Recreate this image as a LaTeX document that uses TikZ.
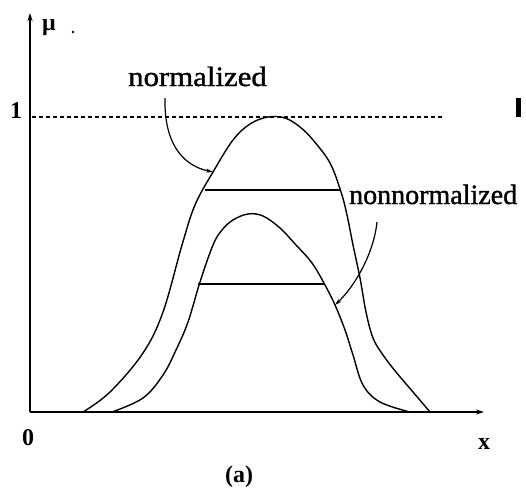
\documentclass[tikz,border=0pt]{standalone}
\usepackage{fontspec}
\setmainfont{Liberation Serif}
\usetikzlibrary{arrows.meta}
\begin{document}
\begin{tikzpicture}[x=1pt,y=-1pt,
  axis/.style={line width=1.8pt,-{Stealth[length=8pt,width=5pt]}},
  curve/.style={line width=1.4pt},
  level/.style={line width=1.6pt},
  pointer/.style={line width=1.2pt,-{Stealth[length=7pt,width=4pt]}},
  lbl/.style={inner sep=0pt,anchor=base west,font=\fontsize{28}{30}\selectfont\addfontfeature{FakeBold=1.2}},
  num/.style={inner sep=0pt,anchor=base west,font=\fontsize{24}{26}\selectfont\bfseries}]
\useasboundingbox (0,0) rectangle (526,490);
% axes
\coordinate (O) at (30,412);
\coordinate (ytop) at (30,13);
\coordinate (xend) at (484,412);
\draw[axis] (O) -- (ytop);
\draw[axis] (O) -- (xend);
% dashed level 1
\coordinate (d1) at (32,117);
\coordinate (d2) at (442,117);
\draw[line width=1.2pt,dash pattern=on 4pt off 3pt] (d1) -- (d2);
% outer (normalized) curve
\draw[curve] plot[smooth,tension=0.6] coordinates {(83,412) (110,392) (143,353) (163,312) (182,245) (195,205) (213,172) (233,140) (250,124) (268,117) (285,118) (300,127) (313,140) (330,163) (341,192) (347,215) (353,245) (360,278) (366,312) (373,338) (383,355) (396,372) (413,392) (430,412)};
% inner (nonnormalized) curve
\draw[curve] plot[smooth,tension=0.6] coordinates {(112,412) (143,398) (163,375) (176,350) (188,322) (200,282) (213,245) (222,230) (233,220) (248,214) (263,216) (280,228) (296,245) (312,263) (325,285) (335,305) (345,330) (353,355) (363,385) (380,402) (410,412)};
% alpha-cut levels
\coordinate (a1) at (205,190);
\coordinate (a2) at (341,190);
\coordinate (b1) at (198,284);
\coordinate (b2) at (325,284);
\draw[level] (a1) -- (a2);
\draw[level] (b1) -- (b2);
% labels
\node[lbl,xscale=1.1] (norm) at (128,86) {normalized};
\node[lbl] (nonnorm) at (349,204) {nonnormalized};
\coordinate (nt) at (165,98);
\coordinate (np) at (213,172);
\coordinate (mt) at (377,222);
\coordinate (mp) at (335,305);
\draw[pointer] (nt) .. controls (164,140) and (180,165) .. (np);
\draw[pointer] (mt) .. controls (374,252) and (356,285) .. (mp);
\node[num] (one) at (10,118) {1};
\node[num] (zero) at (22,445) {0};
\node[num] (xl) at (478,449) {x};
\node[num] (mu) at (42,30) {μ};
\node[num] (cap) at (225,482) {(a)};
\fill (73,32) circle (1.3pt);
\fill (516,98) rectangle (521,117);
\end{tikzpicture}
\end{document}
